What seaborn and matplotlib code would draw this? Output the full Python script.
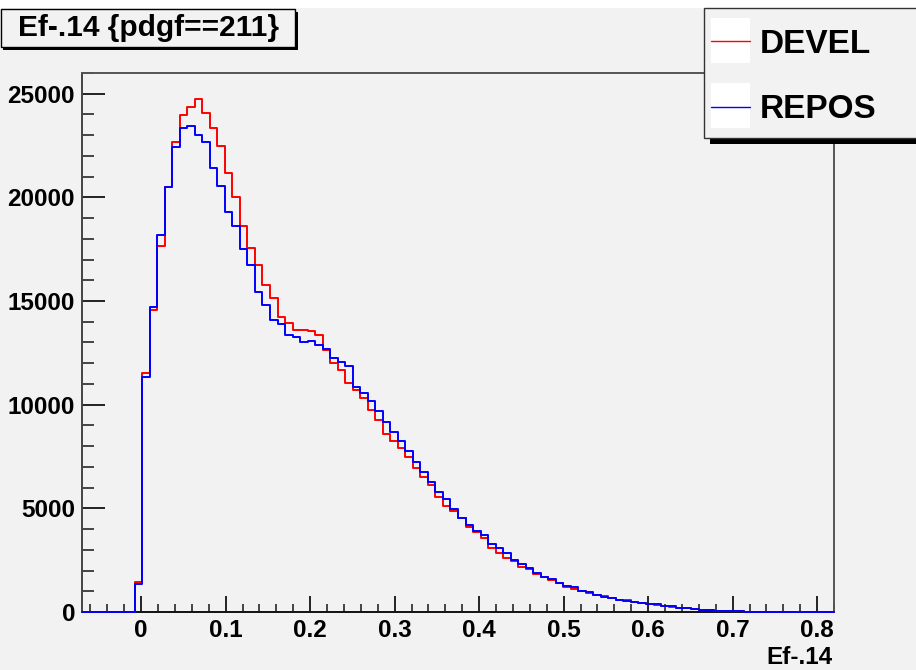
import numpy as np
import pandas as pd
import matplotlib
matplotlib.use("Agg")
import matplotlib.pyplot as plt
import seaborn as sns
from matplotlib.patches import Rectangle
from matplotlib.lines import Line2D
from matplotlib.ticker import MultipleLocator, FuncFormatter

# ---------------- data ----------------
x_min, x_max, n_bins = -0.07, 0.82, 100
series_names = ["DEVEL", "REPOS"]
series_colors = ["#ff0000", "#0000ff"]
title_text = "Ef-.14 {pdgf==211}"
x_label = "Ef-.14"

devel = [0, 0, 0, 0, 0, 0, 0, 1430, 11550, 14590,
         17640, 20480, 22650, 23950, 24360, 24760, 24090, 23330, 22460, 21170,
         20000, 18620, 17580, 16740, 15790, 15140, 14230, 13950, 13620, 13620,
         13560, 13340, 12630, 11990, 11660, 11050, 10700, 10300, 9740, 9250,
         8610, 8250, 7890, 7460, 6970, 6520, 6120, 5560, 5110, 4870,
         4550, 4110, 3870, 3550, 3070, 2830, 2590, 2460, 2150, 2060,
         1830, 1700, 1540, 1410, 1220, 1130, 1030, 900, 820, 770,
         680, 580, 570, 480, 440, 380, 330, 290, 250, 190,
         170, 130, 110, 100, 65, 50, 40, 30, 15, 8,
         5, 3, 2, 1, 1, 0, 0, 0, 0, 0]

repos = [0, 0, 0, 0, 0, 0, 0, 1340, 11340, 14690,
         18170, 20480, 22410, 23330, 23430, 22990, 22650, 21420, 20540, 19290,
         18620, 17530, 16740, 15450, 14800, 14070, 13900, 13380, 13270, 13030,
         13080, 12890, 12690, 12230, 12070, 11860, 10860, 10540, 10190, 9690,
         9170, 8690, 8240, 7750, 7250, 6730, 6250, 5800, 5450, 4970,
         4550, 4190, 3920, 3700, 3290, 3070, 2830, 2510, 2310, 2110,
         1870, 1700, 1580, 1410, 1270, 1220, 1030, 950, 820, 740,
         660, 580, 550, 500, 420, 400, 380, 310, 290, 200,
         180, 150, 100, 90, 65, 60, 55, 40, 15, 10,
         8, 5, 3, 2, 2, 1, 1, 0, 0, 0]

y_max = 26000

# ---------------- style ----------------
W, H = 916, 670
bg = "#f2f2f2"
sns.set_style("ticks")
plt.rcParams["font.family"] = ["Liberation Sans", "DejaVu Sans"]
plt.rcParams["font.weight"] = "bold"

fig = plt.figure(figsize=(W / 100, H / 100), dpi=100, facecolor=bg)


def fx(px):
    return px / W


def fy(py):
    return 1 - py / H


ax = fig.add_axes([fx(82), fy(612), fx(834) - fx(82), fy(73) - fy(612)])
ax.set_facecolor(bg)

edges = np.linspace(x_min, x_max, n_bins + 1)
centers = (edges[:-1] + edges[1:]) / 2
df = pd.DataFrame({
    "x": np.concatenate([centers, centers]),
    "count": devel + repos,
    "series": [series_names[0]] * n_bins + [series_names[1]] * n_bins,
})

for name, col in zip(series_names, series_colors):
    sub = df[df["series"] == name]
    sns.histplot(data=sub, x="x", weights="count", bins=list(edges), element="step",
                 fill=False, color=col, linewidth=1.4, ax=ax, legend=False)

for ln in ax.lines:
    ln.set_zorder(3)
    ln.set_clip_on(False)

ax.set_xlim(x_min, x_max)
ax.set_ylim(0, y_max)
ax.set_xlabel("")
ax.set_ylabel("")

ax.xaxis.set_major_locator(MultipleLocator(0.1))
ax.xaxis.set_minor_locator(MultipleLocator(0.02))
ax.yaxis.set_major_locator(MultipleLocator(5000))
ax.yaxis.set_minor_locator(MultipleLocator(1000))
ax.xaxis.set_major_formatter(FuncFormatter(lambda v, p: "0" if abs(v) < 1e-9 else f"{v:.1f}"))
ax.yaxis.set_major_formatter(FuncFormatter(lambda v, p: f"{int(round(v))}"))

ax.tick_params(axis="x", which="major", direction="in", length=11.5, width=1.2,
               labelsize=17.5, pad=5, colors="black", top=False)
ax.tick_params(axis="x", which="minor", direction="in", length=5.8, width=1.2, top=False)
ax.tick_params(axis="y", which="major", direction="in", length=16.5, width=1.2,
               labelsize=17.5, pad=5, colors="black", right=False)
ax.tick_params(axis="y", which="minor", direction="in", length=8.3, width=1.2, right=False)
for lab in ax.get_xticklabels() + ax.get_yticklabels():
    lab.set_fontweight("bold")

for side in ["left", "bottom", "top", "right"]:
    ax.spines[side].set_visible(True)
    ax.spines[side].set_linewidth(1.4)
ax.spines["bottom"].set_color("#111111")
ax.spines["left"].set_color("#444444")
ax.spines["top"].set_color("#555555")
ax.spines["right"].set_color("#555555")

fig.text(fx(832), fy(664), x_label, ha="right", va="baseline", fontsize=17.5,
         fontweight="bold", color="black")

# white strip at top of canvas
fig.patches.append(Rectangle((0, fy(8)), 1, 1 - fy(8), transform=fig.transFigure,
                             facecolor="white", edgecolor="none", zorder=0))

# title box with shadow
fig.patches.append(Rectangle((fx(3), fy(49.5)), fx(295) - fx(0), fy(9.3) - fy(46.7),
                             transform=fig.transFigure, facecolor="black",
                             edgecolor="none", zorder=5))
fig.patches.append(Rectangle((fx(0.5), fy(46.7)), fx(295) - fx(0.5), fy(9.3) - fy(46.7),
                             transform=fig.transFigure, facecolor=bg,
                             edgecolor="black", linewidth=1.0, zorder=6))
fig.text(fx(148), fy(35.5), title_text, ha="center", va="baseline", fontsize=21.5,
         fontweight="bold", color="black", zorder=7)

# legend box with shadow
fig.patches.append(Rectangle((fx(710), fy(144)), fx(940) - fx(710), fy(8.3) - fy(138.3),
                             transform=fig.transFigure, facecolor="black",
                             edgecolor="none", zorder=5))
fig.patches.append(Rectangle((fx(703.5), fy(138.3)), fx(940) - fx(703.5), fy(8.3) - fy(138.3),
                             transform=fig.transFigure, facecolor=bg,
                             edgecolor="#333333", linewidth=1.0, zorder=6))
rows = [(18, 63, 40.7, 53.3), (83, 128, 106.7, 118.3)]
for (top, bot, ly, base), name, col in zip(rows, series_names, series_colors):
    fig.patches.append(Rectangle((fx(710.7), fy(bot)), fx(750) - fx(710.7), fy(top) - fy(bot),
                                 transform=fig.transFigure, facecolor="white",
                                 edgecolor="none", zorder=7))
    fig.lines.append(Line2D([fx(710.7), fx(750)], [fy(ly), fy(ly)], transform=fig.transFigure,
                            color=col, linewidth=1.0, zorder=8))
    fig.text(fx(760), fy(base), name, ha="left", va="baseline", fontsize=24,
             fontweight="bold", color="black", zorder=8)

fig.savefig("out.png", dpi=100, facecolor=bg)
